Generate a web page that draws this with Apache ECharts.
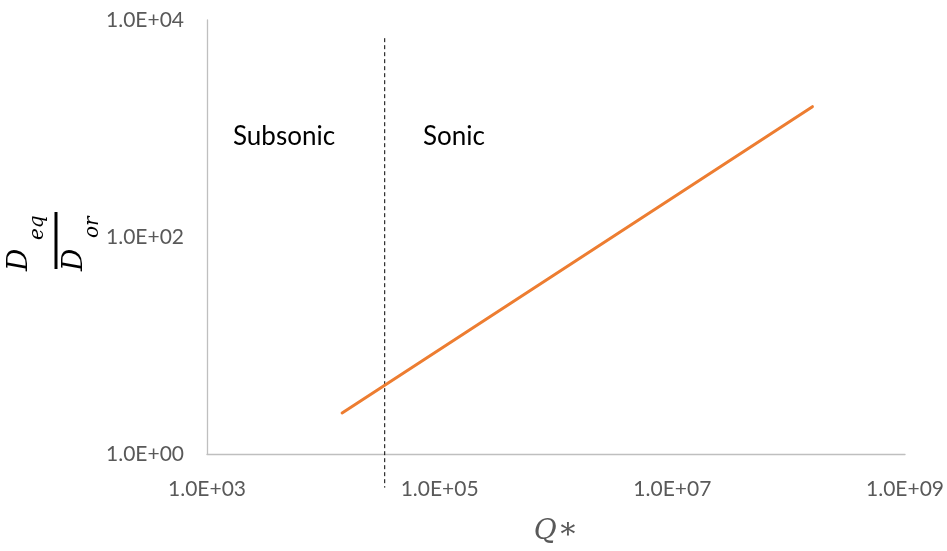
<!DOCTYPE html>
<html>
<head>
<meta charset="utf-8">
<title>Equivalent diameter vs Q*</title>
<script src="https://cdn.jsdelivr.net/npm/echarts@6/dist/echarts.min.js"></script>
<style>
  html, body { margin: 0; padding: 0; background: #fff; }
  #chart { width: 947px; height: 551px; }
</style>
</head>
<body>
<div id="chart"></div>
<script>
// Dimensionless flow rate Q* and equivalent-diameter ratio D_eq / D_or
const qStar = [1.45e4, 1.6e8];
const diameterRatio = [2.39, 1590];

// Subsonic / sonic transition
const sonicQ = 3.37e4;
const dividerSpan = [6800, 0.49];

// Axis ranges (decades)
const xRange = [1e3, 1e9];
const yRange = [1, 1e4];

const regionLabels = ['Subsonic', 'Sonic'];

const tickColor = '#595959';
const sciLabel = v => {
  const [m, e] = Number(v).toExponential(1).split('e');
  const sign = e[0];
  const digits = e.slice(1).padStart(2, '0');
  return m + 'E' + sign + digits;
};

const chart = echarts.init(document.getElementById('chart'), null, { renderer: 'canvas' });

const mathFont = '"DejaVu Serif", "Liberation Serif", serif';

chart.setOption({
  animation: false,
  backgroundColor: '#ffffff',
  grid: { left: 207, right: 41, top: 20, bottom: 97, containLabel: false },
  xAxis: {
    type: 'log',
    logBase: 10,
    min: xRange[0],
    max: xRange[1],
    interval: 2,
    name: '{q|Q}{s|\u2217}',
    nameLocation: 'middle',
    nameGap: 61,
    nameTextStyle: {
      rich: {
        q: { fontFamily: mathFont, fontStyle: 'italic', fontSize: 28, color: tickColor },
        s: { fontFamily: mathFont, fontSize: 30, color: tickColor, verticalAlign: 'top', padding: [0, 0, 4, 1] }
      }
    },
    axisLine: { show: true, lineStyle: { color: '#bfbfbf', width: 1.3 } },
    axisTick: { show: false },
    splitLine: { show: false },
    minorTick: { show: false },
    axisLabel: { formatter: sciLabel, color: tickColor, fontFamily: 'Lato', fontSize: 21, margin: 25 }
  },
  yAxis: {
    type: 'log',
    logBase: 10,
    min: yRange[0],
    max: yRange[1],
    interval: 2,
    axisLine: { show: true, lineStyle: { color: '#bfbfbf', width: 1.3 } },
    axisTick: { show: false },
    splitLine: { show: false },
    axisLabel: { formatter: sciLabel, color: tickColor, fontFamily: 'Lato', fontSize: 21, margin: 23 }
  },
  series: [
    {
      type: 'line',
      data: qStar.map((q, i) => [q, diameterRatio[i]]),
      showSymbol: false,
      lineStyle: { color: '#ED7D31', width: 3, cap: 'round' },
      z: 3
    },
    {
      type: 'line',
      data: dividerSpan.map(d => [sonicQ, d]),
      showSymbol: false,
      clip: false,
      lineStyle: { color: '#000000', width: 1, type: [4, 3] },
      z: 2
    }
  ],
  graphic: [
    {
      type: 'text', left: 233, top: 124,
      style: { text: regionLabels[0], fontFamily: 'Lato', fontSize: 26, fill: '#000' }
    },
    {
      type: 'text', left: 423, top: 124,
      style: { text: regionLabels[1], fontFamily: 'Lato', fontSize: 26, fill: '#000' }
    },
    {
      // stacked fraction D_eq / D_or, reading bottom to top
      type: 'group',
      x: 56, y: 241,
      rotation: Math.PI / 2,
      children: [
        { type: 'rect', shape: { x: -28, y: -1.5, width: 57, height: 3 }, style: { fill: '#000' } },
        { type: 'text', x: -30, y: -36, style: { text: 'D', fontFamily: mathFont, fontStyle: 'italic', fontSize: 28, fill: '#000', verticalAlign: 'middle', align: 'left' } },
        { type: 'text', x: 1, y: -18, style: { text: 'eq', fontFamily: mathFont, fontStyle: 'italic', fontSize: 20, fill: '#000', verticalAlign: 'middle', align: 'left' } },
        { type: 'text', x: -30, y: 19, style: { text: 'D', fontFamily: mathFont, fontStyle: 'italic', fontSize: 28, fill: '#000', verticalAlign: 'middle', align: 'left' } },
        { type: 'text', x: 3, y: 37, style: { text: 'or', fontFamily: mathFont, fontStyle: 'italic', fontSize: 20, fill: '#000', verticalAlign: 'middle', align: 'left' } }
      ]
    }
  ]
});
</script>
</body>
</html>
